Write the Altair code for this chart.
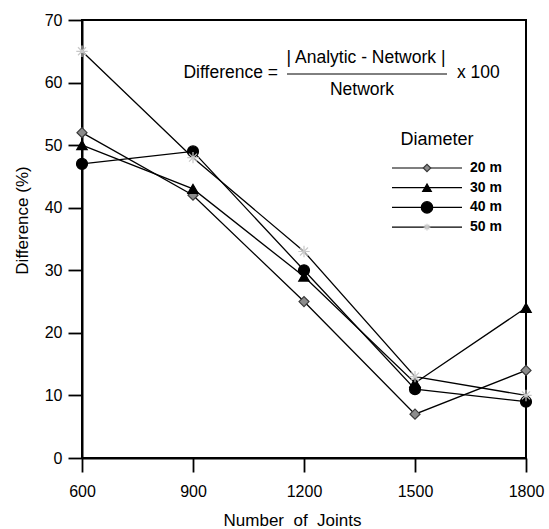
import altair as alt
import pandas as pd

# Difference between analytic and network solutions vs. number of joints
joints = [600, 900, 1200, 1500, 1800]
series = ["20 m", "30 m", "40 m", "50 m"]
diff_20 = [52, 42, 25, 7, 14]
diff_30 = [50, 43, 29, 12, 24]
diff_40 = [47, 49, 30, 11, 9]
diff_50 = [65, 48, 33, 13, 10]

rows = []
for name, vals in zip(series, [diff_20, diff_30, diff_40, diff_50]):
    for j, v in zip(joints, vals):
        rows.append({"joints": j, "diff": v, "diameter": name})
df = pd.DataFrame(rows)

FONT = "Liberation Sans"

# marker styling per diameter
star = "M0,-1L0,1M-1,0L1,0M-0.7,-0.7L0.7,0.7M-0.7,0.7L0.7,-0.7"
shapes = ["diamond", "triangle-up", "circle", star]
fills = ["#8c8c8c", "#000000", "#000000", "#e4e4e4"]
strokes = ["#3a3a3a", "#000000", "#000000", "#c8c8c8"]
sizes = [100, 130, 170, 70]
legend_sizes = [55, 75, 130, 45]

x = alt.X("joints:Q", title="Number\u00a0 of\u00a0 Joints",
          scale=alt.Scale(domain=[600, 1800], nice=False),
          axis=alt.Axis(values=joints, format="d", grid=False, labelFlush=False,
                        labelPadding=11, titleX=210, titleY=62, titleBaseline="middle"))
y = alt.Y("diff:Q", title="Difference (%)",
          scale=alt.Scale(domain=[0, 70], nice=False),
          axis=alt.Axis(values=list(range(0, 71, 10)), grid=False, labelFlush=False,
                        labelPadding=6, titleX=-60, titleY=200, titleBaseline="middle"))

lines = alt.Chart(df).mark_line(color="black", strokeWidth=1.3).encode(
    x=x, y=y, detail="diameter:N"
)

pts = alt.Chart(df).mark_point(filled=True, opacity=1, strokeWidth=1.2).encode(
    x="joints:Q",
    y="diff:Q",
    shape=alt.Shape("diameter:N", scale=alt.Scale(domain=series, range=shapes), legend=None),
    fill=alt.Fill("diameter:N", scale=alt.Scale(domain=series, range=fills), legend=None),
    stroke=alt.Stroke("diameter:N", scale=alt.Scale(domain=series, range=strokes), legend=None),
    size=alt.Size("diameter:N", scale=alt.Scale(domain=series, range=sizes), legend=None),
)

layers = [lines, pts]

# legend block
one = pd.DataFrame({"k": [0]})
layers.append(alt.Chart(one).mark_text(font=FONT, fontSize=18, align="center", baseline="middle").encode(
    x=alt.value(355), y=alt.value(120), text=alt.value("Diameter")))
for i, s in enumerate(series):
    yy = 148 + i * 19.7
    layers.append(alt.Chart(one).mark_rule(color="black", strokeWidth=1.2).encode(
        x=alt.value(310), x2=alt.value(380), y=alt.value(yy)))
    layers.append(alt.Chart(one).mark_point(filled=True, opacity=1, strokeWidth=1.2,
                                            shape=shapes[i], fill=fills[i], stroke=strokes[i],
                                            size=legend_sizes[i]).encode(
        x=alt.value(345), y=alt.value(yy)))
    layers.append(alt.Chart(one).mark_text(font=FONT, fontSize=14, fontWeight="bold",
                                           align="left", baseline="middle").encode(
        x=alt.value(388), y=alt.value(yy), text=alt.value(s)))

# formula annotation
layers.append(alt.Chart(one).mark_text(font=FONT, fontSize=17.5, align="right", baseline="middle").encode(
    x=alt.value(196), y=alt.value(53), text=alt.value("Difference =")))
layers.append(alt.Chart(one).mark_text(font=FONT, fontSize=17.5, align="center", baseline="middle").encode(
    x=alt.value(284), y=alt.value(38), text=alt.value("| Analytic - Network |")))
layers.append(alt.Chart(one).mark_rule(color="black", strokeWidth=1).encode(
    x=alt.value(205), x2=alt.value(365), y=alt.value(54)))
layers.append(alt.Chart(one).mark_text(font=FONT, fontSize=17.5, align="center", baseline="middle").encode(
    x=alt.value(280), y=alt.value(70), text=alt.value("Network")))
layers.append(alt.Chart(one).mark_text(font=FONT, fontSize=17.5, align="left", baseline="middle").encode(
    x=alt.value(375), y=alt.value(53), text=alt.value("x 100")))

chart = alt.layer(*layers).properties(
    width=444, height=438,
    autosize=alt.AutoSizeParams(type="none"),
    padding={"left": 82, "top": 20, "right": 23, "bottom": 71},
).configure_view(
    stroke="black", strokeWidth=2
).configure_axis(
    domainColor="black", domainWidth=2, tickColor="black", tickWidth=1.8, tickSize=14,
    labelFont=FONT, labelFontSize=16, labelColor="black",
    titleFont=FONT, titleFontSize=17, titleFontWeight="normal", titleColor="black",
)

chart.save("out.html", embed_options={"renderer": "svg", "actions": False})
